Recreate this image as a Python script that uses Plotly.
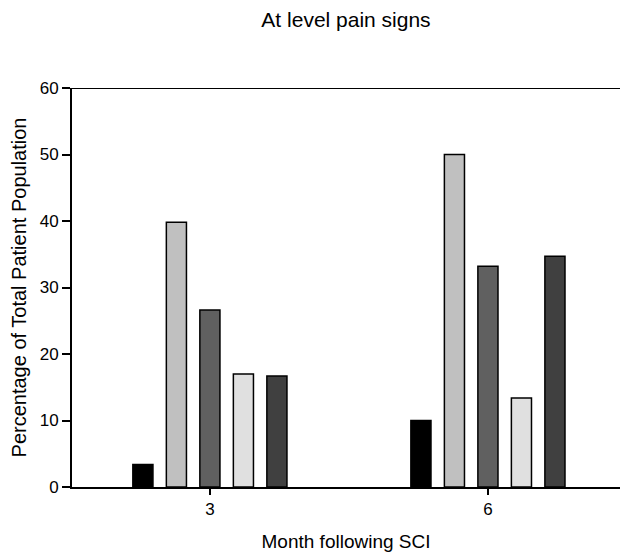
import plotly.graph_objects as go

months = ["3", "6"]
series_names = ["Group 1", "Group 2", "Group 3", "Group 4", "Group 5"]
series_values = [
    [3.4, 10.0],
    [39.8, 50.0],
    [26.6, 33.2],
    [17.0, 13.4],
    [16.7, 34.7],
]
colors = ["#000000", "#c0c0c0", "#606060", "#e0e0e0", "#404040"]
y_ticks = [0, 10, 20, 30, 40, 50, 60]

fig = go.Figure()
for name, vals, c in zip(series_names, series_values, colors):
    fig.add_trace(go.Bar(x=months, y=vals, name=name, marker=dict(color=c, line=dict(color="#000000", width=1.5))))

font = "Liberation Sans, Arial, sans-serif"
fig.update_layout(
    width=620, height=555,
    margin=dict(l=72, r=0, t=88, b=68),
    paper_bgcolor="white", plot_bgcolor="white",
    barmode="group", bargap=0.3975, bargroupgap=0.40,
    showlegend=False,
    font=dict(family=font, color="#000000", size=17),
    title=dict(text="At level pain signs", x=0.5, xref="paper", xanchor="center",
               y=1 - 20 / 555, yref="container", yanchor="middle", font=dict(size=21, family=font)),
    xaxis=dict(type="category", range=[-0.496, 1.475], showgrid=False, zeroline=False,
               showline=True, linecolor="#000000", linewidth=2,
               ticks="outside", ticklen=6, tickwidth=1.5, tickcolor="#000000",
               tickfont=dict(family=font, size=17, color="#000000"),
               title=dict(text="Month following SCI", font=dict(size=19), standoff=16)),
    yaxis=dict(range=[0, 60], tickvals=y_ticks, showgrid=False, zeroline=False,
               showline=True, linecolor="#000000", linewidth=2,
               ticks="outside", ticklen=8, tickwidth=1.5, tickcolor="#000000",
               tickfont=dict(family=font, size=17, color="#000000"),
               title=dict(text="Percentage of Total Patient Population", font=dict(size=20), standoff=8)),
)
fig.add_shape(type="line", xref="paper", yref="y", x0=0, x1=1, y0=60, y1=60,
              line=dict(color="#000000", width=2))
fig.write_html("out.html")
